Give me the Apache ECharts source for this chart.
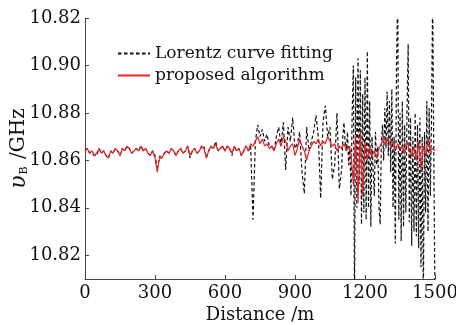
<!DOCTYPE html>
<html>
<head>
<meta charset="utf-8">
<script src="https://cdn.jsdelivr.net/npm/echarts@6/dist/echarts.min.js"></script>
<style>
  html, body { margin: 0; padding: 0; background: #fff; }
  #main { width: 456px; height: 325px; }
</style>
</head>
<body>
<div id="main"></div>
<script>
// distance in m: every 10 m, and every 5 m for the noisy end of the Lorentz fit
var distance = [];
for (var d = 0; d <= 1500; d += 10) distance.push(d);
var distanceFine = [];
for (var f = 1105; f <= 1500; f += 5) distanceFine.push(f);

var proposed = [
    10.864,10.865,10.863,10.864,10.862,10.863,10.865,10.863,10.864,10.862,10.861,
    10.864,10.863,10.865,10.864,10.862,10.865,10.864,10.866,10.865,10.863,
    10.864,10.865,10.864,10.866,10.864,10.865,10.863,10.862,10.864,10.861,
    10.855,10.862,10.861,10.863,10.864,10.863,10.865,10.864,10.862,10.864,
    10.865,10.863,10.864,10.866,10.862,10.864,10.865,10.863,10.864,10.866,
    10.865,10.861,10.864,10.866,10.865,10.867,10.864,10.865,10.866,10.864,
    10.866,10.865,10.863,10.866,10.864,10.865,10.862,10.864,10.866,10.864,
    10.867,10.866,10.868,10.870,10.867,10.869,10.866,10.867,10.865,10.866,
    10.864,10.867,10.869,10.866,10.870,10.868,10.864,10.866,10.867,10.862,
    10.865,10.869,10.866,10.864,10.860,10.864,10.866,10.868,10.867,10.869,
    10.866,10.868,10.867,10.870,10.868,10.866,10.867,10.864,10.866,10.865,
    10.867,10.864,10.866,10.863,10.850,10.870,10.842,10.872,10.845,10.868,
    10.860,10.866,10.862,10.864,10.861,10.865,10.867,10.870,10.867,10.869,
    10.866,10.868,10.864,10.867,10.865,10.866,10.863,10.868,10.864,10.862,
    10.866,10.860,10.868,10.856,10.866,10.862,10.869,10.864,10.865,10.864
];

// Lorentz fit, 0..1100 m (10 m steps)
var lorentz = [
    10.864,10.865,10.863,10.863,10.862,10.862,10.865,10.863,10.864,10.862,10.861,
    10.864,10.863,10.865,10.864,10.862,10.865,10.864,10.866,10.865,10.863,
    10.864,10.865,10.864,10.866,10.864,10.865,10.863,10.862,10.864,10.862,
    10.857,10.861,10.861,10.863,10.864,10.863,10.865,10.864,10.862,10.864,
    10.865,10.863,10.864,10.866,10.861,10.864,10.865,10.863,10.864,10.866,
    10.866,10.861,10.864,10.866,10.865,10.868,10.864,10.865,10.866,10.864,
    10.866,10.865,10.862,10.866,10.864,10.865,10.862,10.864,10.866,10.864,
    10.866,10.835,10.868,10.875,10.870,10.873,10.868,10.871,10.866,10.866,
    10.864,10.870,10.874,10.866,10.876,10.856,10.874,10.868,10.878,10.865,
    10.867,10.872,10.855,10.846,10.874,10.864,10.868,10.872,10.879,10.870,
    10.844,10.876,10.883,10.870,10.874,10.852,10.858,10.880,10.848,10.856
];

// Lorentz fit, 1105..1500 m (5 m steps)
var lorentzFine = [
    10.870,10.876,10.868,10.864,10.872,10.858,10.866,10.845,10.880,10.900,
    10.800,10.895,10.840,10.903,10.850,10.898,10.833,10.888,10.838,10.895,
    10.835,10.906,10.840,10.885,10.832,10.870,10.855,10.845,10.872,10.858,
    10.866,10.840,10.833,10.868,10.875,10.860,10.882,10.865,10.889,10.862,
    10.885,10.855,10.890,10.840,10.870,10.825,10.900,10.930,10.835,10.880,
    10.826,10.885,10.832,10.875,10.838,10.880,10.909,10.834,10.878,10.824,
    10.870,10.830,10.880,10.828,10.875,10.823,10.878,10.815,10.870,10.800,
    10.872,10.838,10.885,10.830,10.882,10.845,10.878,10.930,10.860,10.800
];

var yTicks = [10.82, 10.84, 10.86, 10.88, 10.90, 10.92];
var yTickLabels = ['10.82', '10.84', '10.86', '10.88', '10.90', '10.82'];

var lorentzData = lorentz.map(function (v, i) { return [distance[i], v]; })
    .concat(lorentzFine.map(function (v, i) { return [distanceFine[i], v]; }));
var proposedData = proposed.map(function (v, i) { return [distance[i], v]; });

var font = 'DejaVu Serif';
var chartDom = document.getElementById('main');
var myChart = echarts.init(chartDom);
var option;

option = {
    animation: false,
    grid: { left: 85, right: 21, top: 18, bottom: 46, containLabel: false, outerBoundsMode: 'none' },
    legend: {
        orient: 'vertical',
        left: 112,
        top: 40,
        itemWidth: 32,
        itemHeight: 10,
        itemGap: 5,
        itemStyle: { opacity: 0 },
        textStyle: { fontFamily: font, fontSize: 17, color: '#111' },
        data: ['Lorentz curve fitting', 'proposed algorithm']
    },
    xAxis: {
        type: 'value',
        min: 0,
        max: 1500,
        interval: 300,
        splitLine: { show: false },
        axisLine: { lineStyle: { color: '#444', width: 1 } },
        axisTick: { inside: true, length: 4, lineStyle: { color: '#444' } },
        axisLabel: {
            fontFamily: font, fontSize: 18, color: '#111', margin: 5,
            formatter: function (v) { return String(v); }
        },
        name: 'Distance /m',
        nameLocation: 'middle',
        nameGap: 27,
        nameMoveOverlap: false,
        nameTextStyle: { fontFamily: font, fontSize: 18, color: '#111' }
    },
    yAxis: {
        type: 'value',
        min: 10.81,
        max: 10.92,
        splitLine: { show: false },
        axisLine: { show: true, lineStyle: { color: '#444', width: 1 } },
        axisTick: { inside: true, length: 4, customValues: yTicks, lineStyle: { color: '#444' } },
        axisLabel: {
            fontFamily: font, fontSize: 18, color: '#111', margin: 4,
            customValues: yTicks,
            formatter: function (v) {
                var i = yTicks.findIndex(function (t) { return Math.abs(t - v) < 1e-6; });
                return i >= 0 ? yTickLabels[i] : '';
            }
        },
        name: '{i|υ}{s|B} /GHz',
        nameLocation: 'middle',
        nameGap: 55,
        nameRotate: 90,
        nameMoveOverlap: false,
        nameTextStyle: {
            fontFamily: font, fontSize: 20, color: '#111',
            rich: {
                i: { fontFamily: font, fontSize: 22, fontStyle: 'italic', color: '#111' },
                s: { fontFamily: font, fontSize: 11, color: '#111', verticalAlign: 'bottom', padding: [9, 1, 0, 1] }
            }
        }
    },
    series: [
        {
            name: 'Lorentz curve fitting',
            type: 'line',
            symbol: 'none',
            data: lorentzData,
            lineStyle: { color: '#111', width: 1.2, type: [3.5, 2.5] },
            itemStyle: { color: '#111' },
            z: 2
        },
        {
            name: 'proposed algorithm',
            type: 'line',
            symbol: 'none',
            data: proposedData,
            lineStyle: { color: '#e0262b', width: 1.2 },
            itemStyle: { color: '#e0262b' },
            z: 3
        }
    ]
};

option && myChart.setOption(option);
</script>
</body>
</html>
